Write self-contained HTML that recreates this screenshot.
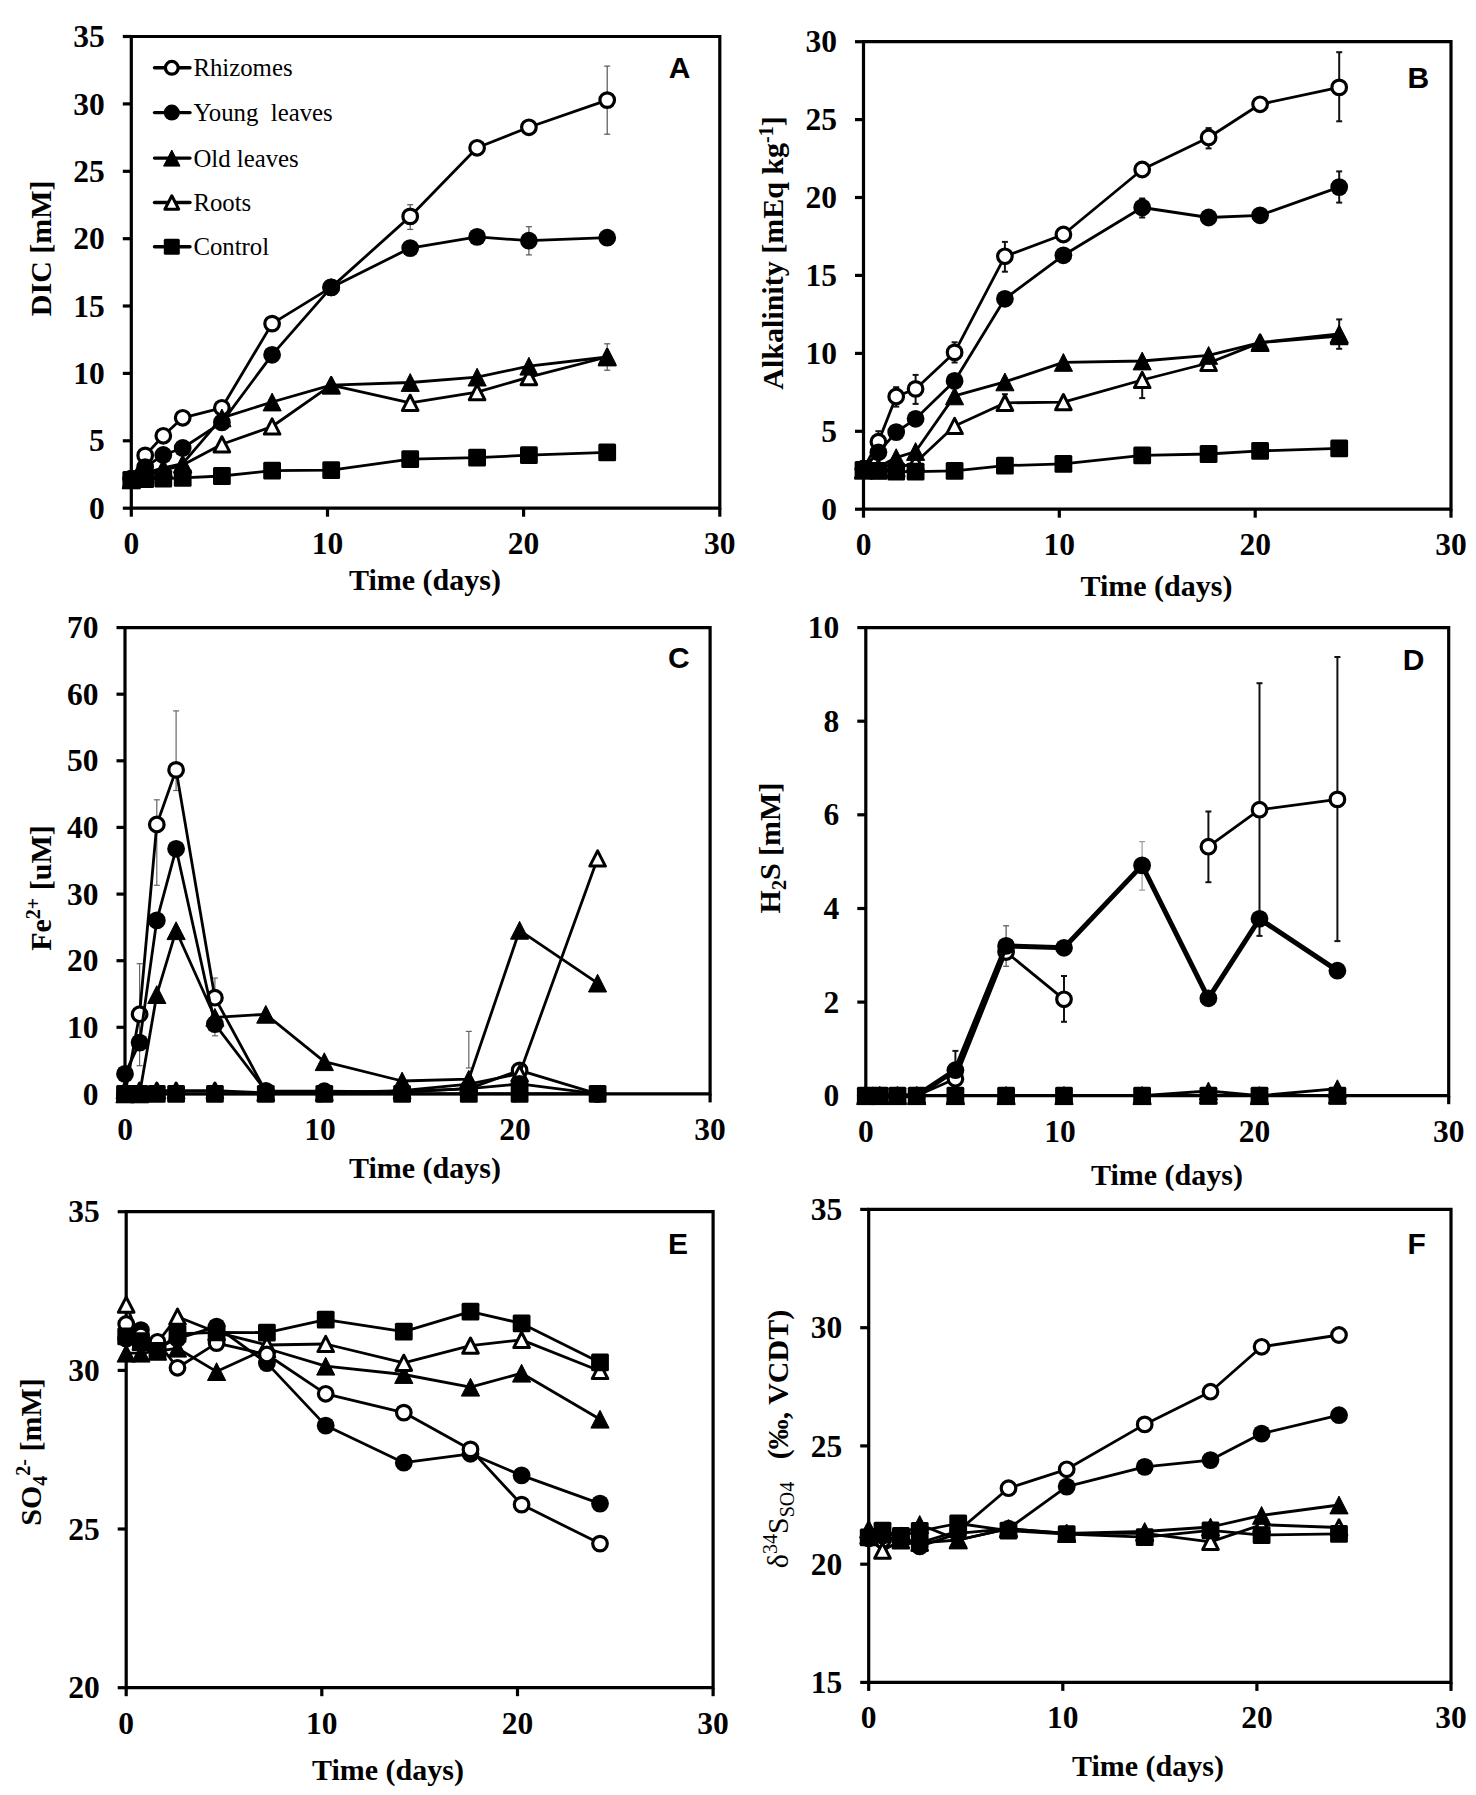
<!DOCTYPE html><html><head><meta charset="utf-8"><style>html,body{margin:0;padding:0;background:#fff;overflow:hidden}svg{display:block}</style></head><body><svg width="1476" height="1795" viewBox="0 0 1476 1795">
<style>.tl{font-family:"Liberation Serif",serif;font-weight:bold;font-size:31.5px}.at{font-family:"Liberation Serif",serif;font-weight:bold;font-size:30px}.lt{font-family:"Liberation Sans",sans-serif;font-weight:bold;font-size:30px}.lg{font-family:"Liberation Serif",serif;font-size:24.8px}</style>
<rect width="1476" height="1795" fill="#fff"/>
<path d="M131.3,36.5 L719.8,36.5 L719.8,508.2 L131.3,508.2 Z" fill="none" stroke="#000" stroke-width="3.2"/>
<line x1="122.8" y1="508.2" x2="131.3" y2="508.2" stroke="#000" stroke-width="3.2"/>
<text x="104.8" y="518.8" class="tl" text-anchor="end">0</text>
<line x1="122.8" y1="440.8" x2="131.3" y2="440.8" stroke="#000" stroke-width="3.2"/>
<text x="104.8" y="451.4" class="tl" text-anchor="end">5</text>
<line x1="122.8" y1="373.4" x2="131.3" y2="373.4" stroke="#000" stroke-width="3.2"/>
<text x="104.8" y="384.0" class="tl" text-anchor="end">10</text>
<line x1="122.8" y1="306.0" x2="131.3" y2="306.0" stroke="#000" stroke-width="3.2"/>
<text x="104.8" y="316.6" class="tl" text-anchor="end">15</text>
<line x1="122.8" y1="238.7" x2="131.3" y2="238.7" stroke="#000" stroke-width="3.2"/>
<text x="104.8" y="249.3" class="tl" text-anchor="end">20</text>
<line x1="122.8" y1="171.3" x2="131.3" y2="171.3" stroke="#000" stroke-width="3.2"/>
<text x="104.8" y="181.9" class="tl" text-anchor="end">25</text>
<line x1="122.8" y1="103.9" x2="131.3" y2="103.9" stroke="#000" stroke-width="3.2"/>
<text x="104.8" y="114.5" class="tl" text-anchor="end">30</text>
<line x1="122.8" y1="36.5" x2="131.3" y2="36.5" stroke="#000" stroke-width="3.2"/>
<text x="104.8" y="47.1" class="tl" text-anchor="end">35</text>
<line x1="131.3" y1="508.2" x2="131.3" y2="516.7" stroke="#000" stroke-width="3.2"/>
<text x="131.3" y="554.0" class="tl" text-anchor="middle">0</text>
<line x1="327.5" y1="508.2" x2="327.5" y2="516.7" stroke="#000" stroke-width="3.2"/>
<text x="327.5" y="554.0" class="tl" text-anchor="middle">10</text>
<line x1="523.6" y1="508.2" x2="523.6" y2="516.7" stroke="#000" stroke-width="3.2"/>
<text x="523.6" y="554.0" class="tl" text-anchor="middle">20</text>
<line x1="719.8" y1="508.2" x2="719.8" y2="516.7" stroke="#000" stroke-width="3.2"/>
<text x="719.8" y="554.0" class="tl" text-anchor="middle">30</text>
<text x="668.8" y="78.3" class="lt">A</text>
<text x="425.0" y="589.8" class="at" text-anchor="middle">Time (days)</text>
<text transform="translate(51.1,248.3) rotate(-90)" class="at" text-anchor="middle">DIC [mM]</text>
<path d="M863.5,41.7 L1451.0,41.7 L1451.0,509.2 L863.5,509.2 Z" fill="none" stroke="#000" stroke-width="3.2"/>
<line x1="855.0" y1="509.2" x2="863.5" y2="509.2" stroke="#000" stroke-width="3.2"/>
<text x="837.0" y="519.8" class="tl" text-anchor="end">0</text>
<line x1="855.0" y1="431.3" x2="863.5" y2="431.3" stroke="#000" stroke-width="3.2"/>
<text x="837.0" y="441.9" class="tl" text-anchor="end">5</text>
<line x1="855.0" y1="353.4" x2="863.5" y2="353.4" stroke="#000" stroke-width="3.2"/>
<text x="837.0" y="364.0" class="tl" text-anchor="end">10</text>
<line x1="855.0" y1="275.4" x2="863.5" y2="275.4" stroke="#000" stroke-width="3.2"/>
<text x="837.0" y="286.1" class="tl" text-anchor="end">15</text>
<line x1="855.0" y1="197.5" x2="863.5" y2="197.5" stroke="#000" stroke-width="3.2"/>
<text x="837.0" y="208.1" class="tl" text-anchor="end">20</text>
<line x1="855.0" y1="119.6" x2="863.5" y2="119.6" stroke="#000" stroke-width="3.2"/>
<text x="837.0" y="130.2" class="tl" text-anchor="end">25</text>
<line x1="855.0" y1="41.7" x2="863.5" y2="41.7" stroke="#000" stroke-width="3.2"/>
<text x="837.0" y="52.3" class="tl" text-anchor="end">30</text>
<line x1="863.5" y1="509.2" x2="863.5" y2="517.7" stroke="#000" stroke-width="3.2"/>
<text x="863.5" y="555.0" class="tl" text-anchor="middle">0</text>
<line x1="1059.3" y1="509.2" x2="1059.3" y2="517.7" stroke="#000" stroke-width="3.2"/>
<text x="1059.3" y="555.0" class="tl" text-anchor="middle">10</text>
<line x1="1255.2" y1="509.2" x2="1255.2" y2="517.7" stroke="#000" stroke-width="3.2"/>
<text x="1255.2" y="555.0" class="tl" text-anchor="middle">20</text>
<line x1="1451.0" y1="509.2" x2="1451.0" y2="517.7" stroke="#000" stroke-width="3.2"/>
<text x="1451.0" y="555.0" class="tl" text-anchor="middle">30</text>
<text x="1407.5" y="88.2" class="lt">B</text>
<text x="1156.5" y="595.9" class="at" text-anchor="middle">Time (days)</text>
<text transform="translate(783.4,253) rotate(-90)" class="at" text-anchor="middle">Alkalinity [mEq kg<tspan dy="-10" font-size="20">-1</tspan><tspan dy="10">]</tspan></text>
<path d="M125.0,627.6 L710.1,627.6 L710.1,1093.9 L125.0,1093.9 Z" fill="none" stroke="#000" stroke-width="3.2"/>
<line x1="116.5" y1="1093.9" x2="125.0" y2="1093.9" stroke="#000" stroke-width="3.2"/>
<text x="98.5" y="1104.5" class="tl" text-anchor="end">0</text>
<line x1="116.5" y1="1027.3" x2="125.0" y2="1027.3" stroke="#000" stroke-width="3.2"/>
<text x="98.5" y="1037.9" class="tl" text-anchor="end">10</text>
<line x1="116.5" y1="960.7" x2="125.0" y2="960.7" stroke="#000" stroke-width="3.2"/>
<text x="98.5" y="971.3" class="tl" text-anchor="end">20</text>
<line x1="116.5" y1="894.1" x2="125.0" y2="894.1" stroke="#000" stroke-width="3.2"/>
<text x="98.5" y="904.7" class="tl" text-anchor="end">30</text>
<line x1="116.5" y1="827.4" x2="125.0" y2="827.4" stroke="#000" stroke-width="3.2"/>
<text x="98.5" y="838.0" class="tl" text-anchor="end">40</text>
<line x1="116.5" y1="760.8" x2="125.0" y2="760.8" stroke="#000" stroke-width="3.2"/>
<text x="98.5" y="771.4" class="tl" text-anchor="end">50</text>
<line x1="116.5" y1="694.2" x2="125.0" y2="694.2" stroke="#000" stroke-width="3.2"/>
<text x="98.5" y="704.8" class="tl" text-anchor="end">60</text>
<line x1="116.5" y1="627.6" x2="125.0" y2="627.6" stroke="#000" stroke-width="3.2"/>
<text x="98.5" y="638.2" class="tl" text-anchor="end">70</text>
<line x1="125.0" y1="1093.9" x2="125.0" y2="1102.4" stroke="#000" stroke-width="3.2"/>
<text x="125.0" y="1139.7" class="tl" text-anchor="middle">0</text>
<line x1="320.0" y1="1093.9" x2="320.0" y2="1102.4" stroke="#000" stroke-width="3.2"/>
<text x="320.0" y="1139.7" class="tl" text-anchor="middle">10</text>
<line x1="515.1" y1="1093.9" x2="515.1" y2="1102.4" stroke="#000" stroke-width="3.2"/>
<text x="515.1" y="1139.7" class="tl" text-anchor="middle">20</text>
<line x1="710.1" y1="1093.9" x2="710.1" y2="1102.4" stroke="#000" stroke-width="3.2"/>
<text x="710.1" y="1139.7" class="tl" text-anchor="middle">30</text>
<text x="668.0" y="667.8" class="lt">C</text>
<text x="425.0" y="1178.1" class="at" text-anchor="middle">Time (days)</text>
<text transform="translate(51.2,888) rotate(-90)" class="at" text-anchor="middle">Fe<tspan dy="-11" font-size="20">2+</tspan><tspan dy="11"> [uM]</tspan></text>
<path d="M865.8,627.6 L1448.7,627.6 L1448.7,1095.7 L865.8,1095.7 Z" fill="none" stroke="#000" stroke-width="3.2"/>
<line x1="857.3" y1="1095.7" x2="865.8" y2="1095.7" stroke="#000" stroke-width="3.2"/>
<text x="839.3" y="1106.3" class="tl" text-anchor="end">0</text>
<line x1="857.3" y1="1002.1" x2="865.8" y2="1002.1" stroke="#000" stroke-width="3.2"/>
<text x="839.3" y="1012.7" class="tl" text-anchor="end">2</text>
<line x1="857.3" y1="908.5" x2="865.8" y2="908.5" stroke="#000" stroke-width="3.2"/>
<text x="839.3" y="919.1" class="tl" text-anchor="end">4</text>
<line x1="857.3" y1="814.8" x2="865.8" y2="814.8" stroke="#000" stroke-width="3.2"/>
<text x="839.3" y="825.4" class="tl" text-anchor="end">6</text>
<line x1="857.3" y1="721.2" x2="865.8" y2="721.2" stroke="#000" stroke-width="3.2"/>
<text x="839.3" y="731.8" class="tl" text-anchor="end">8</text>
<line x1="857.3" y1="627.6" x2="865.8" y2="627.6" stroke="#000" stroke-width="3.2"/>
<text x="839.3" y="638.2" class="tl" text-anchor="end">10</text>
<line x1="865.8" y1="1095.7" x2="865.8" y2="1104.2" stroke="#000" stroke-width="3.2"/>
<text x="865.8" y="1141.5" class="tl" text-anchor="middle">0</text>
<line x1="1060.1" y1="1095.7" x2="1060.1" y2="1104.2" stroke="#000" stroke-width="3.2"/>
<text x="1060.1" y="1141.5" class="tl" text-anchor="middle">10</text>
<line x1="1254.4" y1="1095.7" x2="1254.4" y2="1104.2" stroke="#000" stroke-width="3.2"/>
<text x="1254.4" y="1141.5" class="tl" text-anchor="middle">20</text>
<line x1="1448.7" y1="1095.7" x2="1448.7" y2="1104.2" stroke="#000" stroke-width="3.2"/>
<text x="1448.7" y="1141.5" class="tl" text-anchor="middle">30</text>
<text x="1402.8" y="670.0" class="lt">D</text>
<text x="1167.0" y="1184.9" class="at" text-anchor="middle">Time (days)</text>
<text transform="translate(779.5,848) rotate(-90)" class="at" text-anchor="middle">H<tspan dy="6" font-size="20">2</tspan><tspan dy="-6">S [mM]</tspan></text>
<path d="M126.2,1211.7 L713.1,1211.7 L713.1,1687.7 L126.2,1687.7 Z" fill="none" stroke="#000" stroke-width="3.2"/>
<line x1="117.7" y1="1687.7" x2="126.2" y2="1687.7" stroke="#000" stroke-width="3.2"/>
<text x="99.7" y="1698.3" class="tl" text-anchor="end">20</text>
<line x1="117.7" y1="1529.0" x2="126.2" y2="1529.0" stroke="#000" stroke-width="3.2"/>
<text x="99.7" y="1539.6" class="tl" text-anchor="end">25</text>
<line x1="117.7" y1="1370.4" x2="126.2" y2="1370.4" stroke="#000" stroke-width="3.2"/>
<text x="99.7" y="1381.0" class="tl" text-anchor="end">30</text>
<line x1="117.7" y1="1211.7" x2="126.2" y2="1211.7" stroke="#000" stroke-width="3.2"/>
<text x="99.7" y="1222.3" class="tl" text-anchor="end">35</text>
<line x1="126.2" y1="1687.7" x2="126.2" y2="1696.2" stroke="#000" stroke-width="3.2"/>
<text x="126.2" y="1733.5" class="tl" text-anchor="middle">0</text>
<line x1="321.8" y1="1687.7" x2="321.8" y2="1696.2" stroke="#000" stroke-width="3.2"/>
<text x="321.8" y="1733.5" class="tl" text-anchor="middle">10</text>
<line x1="517.5" y1="1687.7" x2="517.5" y2="1696.2" stroke="#000" stroke-width="3.2"/>
<text x="517.5" y="1733.5" class="tl" text-anchor="middle">20</text>
<line x1="713.1" y1="1687.7" x2="713.1" y2="1696.2" stroke="#000" stroke-width="3.2"/>
<text x="713.1" y="1733.5" class="tl" text-anchor="middle">30</text>
<text x="668.0" y="1254.3" class="lt">E</text>
<text x="388.0" y="1779.6" class="at" text-anchor="middle">Time (days)</text>
<text transform="translate(41.3,1452) rotate(-90)" class="at" text-anchor="middle">SO<tspan dy="6" font-size="20">4</tspan><tspan dy="-17" font-size="20">2-</tspan><tspan dy="11"> [mM]</tspan></text>
<path d="M868.7,1209.4 L1451.0,1209.4 L1451.0,1682.4 L868.7,1682.4 Z" fill="none" stroke="#000" stroke-width="3.2"/>
<line x1="860.2" y1="1682.4" x2="868.7" y2="1682.4" stroke="#000" stroke-width="3.2"/>
<text x="842.2" y="1693.0" class="tl" text-anchor="end">15</text>
<line x1="860.2" y1="1564.2" x2="868.7" y2="1564.2" stroke="#000" stroke-width="3.2"/>
<text x="842.2" y="1574.8" class="tl" text-anchor="end">20</text>
<line x1="860.2" y1="1445.9" x2="868.7" y2="1445.9" stroke="#000" stroke-width="3.2"/>
<text x="842.2" y="1456.5" class="tl" text-anchor="end">25</text>
<line x1="860.2" y1="1327.7" x2="868.7" y2="1327.7" stroke="#000" stroke-width="3.2"/>
<text x="842.2" y="1338.2" class="tl" text-anchor="end">30</text>
<line x1="860.2" y1="1209.4" x2="868.7" y2="1209.4" stroke="#000" stroke-width="3.2"/>
<text x="842.2" y="1220.0" class="tl" text-anchor="end">35</text>
<line x1="868.7" y1="1682.4" x2="868.7" y2="1690.9" stroke="#000" stroke-width="3.2"/>
<text x="868.7" y="1728.2" class="tl" text-anchor="middle">0</text>
<line x1="1062.8" y1="1682.4" x2="1062.8" y2="1690.9" stroke="#000" stroke-width="3.2"/>
<text x="1062.8" y="1728.2" class="tl" text-anchor="middle">10</text>
<line x1="1256.9" y1="1682.4" x2="1256.9" y2="1690.9" stroke="#000" stroke-width="3.2"/>
<text x="1256.9" y="1728.2" class="tl" text-anchor="middle">20</text>
<line x1="1451.0" y1="1682.4" x2="1451.0" y2="1690.9" stroke="#000" stroke-width="3.2"/>
<text x="1451.0" y="1728.2" class="tl" text-anchor="middle">30</text>
<text x="1407.5" y="1253.7" class="lt">F</text>
<text x="1148.0" y="1775.8" class="at" text-anchor="middle">Time (days)</text>
<text transform="translate(787.6,1439) rotate(-90)" class="at" text-anchor="middle"><tspan font-weight="normal">δ<tspan dy="-11" font-size="20">34</tspan><tspan dy="11">S</tspan><tspan dy="6" font-size="20">SO4</tspan></tspan><tspan dy="-6" xml:space="preserve">   (‰, VCDT)</tspan></text>
<g stroke="#555" stroke-width="1.2"><line x1="410.2" y1="204.7" x2="410.2" y2="229.4"/><line x1="407.2" y1="204.7" x2="413.2" y2="204.7"/><line x1="407.2" y1="229.4" x2="413.2" y2="229.4"/></g>
<g stroke="#555" stroke-width="1.2"><line x1="607.2" y1="66.1" x2="607.2" y2="134.2"/><line x1="604.2" y1="66.1" x2="610.2" y2="66.1"/><line x1="604.2" y1="134.2" x2="610.2" y2="134.2"/></g>
<g stroke="#555" stroke-width="1.2"><line x1="528.9" y1="226.7" x2="528.9" y2="254.9"/><line x1="525.9" y1="226.7" x2="531.9" y2="226.7"/><line x1="525.9" y1="254.9" x2="531.9" y2="254.9"/></g>
<g stroke="#555" stroke-width="1.2"><line x1="607.2" y1="343.8" x2="607.2" y2="370.2"/><line x1="604.2" y1="343.8" x2="610.2" y2="343.8"/><line x1="604.2" y1="370.2" x2="610.2" y2="370.2"/></g>
<g stroke="#111" stroke-width="2"><line x1="878.4" y1="431.2" x2="878.4" y2="452.0"/><line x1="875.4" y1="431.2" x2="881.4" y2="431.2"/><line x1="875.4" y1="452.0" x2="881.4" y2="452.0"/></g>
<g stroke="#111" stroke-width="2"><line x1="896.2" y1="387.2" x2="896.2" y2="406.6"/><line x1="893.2" y1="387.2" x2="899.2" y2="387.2"/><line x1="893.2" y1="406.6" x2="899.2" y2="406.6"/></g>
<g stroke="#111" stroke-width="2"><line x1="915.6" y1="374.9" x2="915.6" y2="403.9"/><line x1="912.6" y1="374.9" x2="918.6" y2="374.9"/><line x1="912.6" y1="403.9" x2="918.6" y2="403.9"/></g>
<g stroke="#111" stroke-width="2"><line x1="954.6" y1="342.3" x2="954.6" y2="362.5"/><line x1="951.6" y1="342.3" x2="957.6" y2="342.3"/><line x1="951.6" y1="362.5" x2="957.6" y2="362.5"/></g>
<g stroke="#111" stroke-width="2"><line x1="1004.9" y1="241.9" x2="1004.9" y2="271.7"/><line x1="1001.9" y1="241.9" x2="1007.9" y2="241.9"/><line x1="1001.9" y1="271.7" x2="1007.9" y2="271.7"/></g>
<g stroke="#111" stroke-width="2"><line x1="1208.6" y1="128.1" x2="1208.6" y2="148.4"/><line x1="1205.6" y1="128.1" x2="1211.6" y2="128.1"/><line x1="1205.6" y1="148.4" x2="1211.6" y2="148.4"/></g>
<g stroke="#111" stroke-width="2"><line x1="1339.2" y1="52.2" x2="1339.2" y2="121.3"/><line x1="1336.2" y1="52.2" x2="1342.2" y2="52.2"/><line x1="1336.2" y1="121.3" x2="1342.2" y2="121.3"/></g>
<g stroke="#111" stroke-width="2"><line x1="1339.2" y1="171.4" x2="1339.2" y2="202.6"/><line x1="1336.2" y1="171.4" x2="1342.2" y2="171.4"/><line x1="1336.2" y1="202.6" x2="1342.2" y2="202.6"/></g>
<g stroke="#111" stroke-width="2"><line x1="1142.2" y1="198.5" x2="1142.2" y2="217.5"/><line x1="1139.2" y1="198.5" x2="1145.2" y2="198.5"/><line x1="1139.2" y1="217.5" x2="1145.2" y2="217.5"/></g>
<g stroke="#111" stroke-width="2"><line x1="1142.2" y1="380.1" x2="1142.2" y2="398.1"/><line x1="1139.2" y1="380.1" x2="1145.2" y2="380.1"/><line x1="1139.2" y1="398.1" x2="1145.2" y2="398.1"/></g>
<g stroke="#111" stroke-width="2"><line x1="1339.2" y1="319.4" x2="1339.2" y2="348.8"/><line x1="1336.2" y1="319.4" x2="1342.2" y2="319.4"/><line x1="1336.2" y1="348.8" x2="1342.2" y2="348.8"/></g>
<g stroke="#111" stroke-width="2"><line x1="1004.9" y1="394.2" x2="1004.9" y2="410.0"/><line x1="1001.9" y1="394.2" x2="1007.9" y2="394.2"/><line x1="1001.9" y1="410.0" x2="1007.9" y2="410.0"/></g>
<g stroke="#666" stroke-width="1.2"><line x1="139.6" y1="963.7" x2="139.6" y2="1065.7"/><line x1="136.6" y1="963.7" x2="142.6" y2="963.7"/><line x1="136.6" y1="1065.7" x2="142.6" y2="1065.7"/></g>
<g stroke="#666" stroke-width="1.2"><line x1="156.8" y1="799.8" x2="156.8" y2="885.3"/><line x1="153.8" y1="799.8" x2="159.8" y2="799.8"/><line x1="153.8" y1="885.3" x2="159.8" y2="885.3"/></g>
<g stroke="#666" stroke-width="1.2"><line x1="176.1" y1="710.9" x2="176.1" y2="790.5"/><line x1="173.1" y1="710.9" x2="179.1" y2="710.9"/><line x1="173.1" y1="790.5" x2="179.1" y2="790.5"/></g>
<g stroke="#666" stroke-width="1.2"><line x1="214.9" y1="978.1" x2="214.9" y2="1000.0"/><line x1="211.9" y1="978.1" x2="217.9" y2="978.1"/><line x1="211.9" y1="1000.0" x2="217.9" y2="1000.0"/></g>
<g stroke="#666" stroke-width="1.2"><line x1="214.9" y1="1024.0" x2="214.9" y2="1035.8"/><line x1="211.9" y1="1024.0" x2="217.9" y2="1024.0"/><line x1="211.9" y1="1035.8" x2="217.9" y2="1035.8"/></g>
<g stroke="#666" stroke-width="1.2"><line x1="468.8" y1="1031.4" x2="468.8" y2="1068.0"/><line x1="465.8" y1="1031.4" x2="471.8" y2="1031.4"/><line x1="465.8" y1="1068.0" x2="471.8" y2="1068.0"/></g>
<g stroke="#111" stroke-width="2"><line x1="955.4" y1="1050.9" x2="955.4" y2="1070.0"/><line x1="952.4" y1="1050.9" x2="958.4" y2="1050.9"/><line x1="952.4" y1="1070.0" x2="958.4" y2="1070.0"/></g>
<g stroke="#555" stroke-width="1.2"><line x1="1006.1" y1="925.8" x2="1006.1" y2="966.3"/><line x1="1003.1" y1="925.8" x2="1009.1" y2="925.8"/><line x1="1003.1" y1="966.3" x2="1009.1" y2="966.3"/></g>
<g stroke="#111" stroke-width="2"><line x1="1064.0" y1="976.0" x2="1064.0" y2="1021.8"/><line x1="1061.0" y1="976.0" x2="1067.0" y2="976.0"/><line x1="1061.0" y1="1021.8" x2="1067.0" y2="1021.8"/></g>
<g stroke="#999" stroke-width="1.2"><line x1="1142.1" y1="841.6" x2="1142.1" y2="890.1"/><line x1="1139.1" y1="841.6" x2="1145.1" y2="841.6"/><line x1="1139.1" y1="890.1" x2="1145.1" y2="890.1"/></g>
<g stroke="#111" stroke-width="2"><line x1="1208.4" y1="811.5" x2="1208.4" y2="882.2"/><line x1="1205.4" y1="811.5" x2="1211.4" y2="811.5"/><line x1="1205.4" y1="882.2" x2="1211.4" y2="882.2"/></g>
<g stroke="#111" stroke-width="2"><line x1="1259.5" y1="683.2" x2="1259.5" y2="935.9"/><line x1="1256.5" y1="683.2" x2="1262.5" y2="683.2"/><line x1="1256.5" y1="935.9" x2="1262.5" y2="935.9"/></g>
<g stroke="#111" stroke-width="2"><line x1="1337.4" y1="657.0" x2="1337.4" y2="941.1"/><line x1="1334.4" y1="657.0" x2="1340.4" y2="657.0"/><line x1="1334.4" y1="941.1" x2="1340.4" y2="941.1"/></g>
<path d="M131.3,478.6 L145.2,455.4 L163.3,435.8 L182.7,417.8 L221.9,407.8 L272.1,323.6 L331.2,287.4 L410.2,216.4 L477.1,147.8 L528.9,127.3 L607.2,100.1" fill="none" stroke="#000" stroke-width="2.8" stroke-linejoin="round"/>
<circle cx="131.3" cy="478.6" r="7.3" fill="#fff" stroke="#000" stroke-width="3.2"/>
<circle cx="145.2" cy="455.4" r="7.3" fill="#fff" stroke="#000" stroke-width="3.2"/>
<circle cx="163.3" cy="435.8" r="7.3" fill="#fff" stroke="#000" stroke-width="3.2"/>
<circle cx="182.7" cy="417.8" r="7.3" fill="#fff" stroke="#000" stroke-width="3.2"/>
<circle cx="221.9" cy="407.8" r="7.3" fill="#fff" stroke="#000" stroke-width="3.2"/>
<circle cx="272.1" cy="323.6" r="7.3" fill="#fff" stroke="#000" stroke-width="3.2"/>
<circle cx="331.2" cy="287.4" r="7.3" fill="#fff" stroke="#000" stroke-width="3.2"/>
<circle cx="410.2" cy="216.4" r="7.3" fill="#fff" stroke="#000" stroke-width="3.2"/>
<circle cx="477.1" cy="147.8" r="7.3" fill="#fff" stroke="#000" stroke-width="3.2"/>
<circle cx="528.9" cy="127.3" r="7.3" fill="#fff" stroke="#000" stroke-width="3.2"/>
<circle cx="607.2" cy="100.1" r="7.3" fill="#fff" stroke="#000" stroke-width="3.2"/>
<path d="M131.3,479.9 L145.2,475.9 L163.3,470.5 L182.7,465.1 L221.9,444.3 L272.1,426.5 L331.2,385.2 L410.2,402.8 L477.1,392.2 L528.9,377.1 L607.2,357.0" fill="none" stroke="#000" stroke-width="2.8" stroke-linejoin="round"/>
<path d="M131.3,472.3 L139.1,487.5 L123.5,487.5 Z" fill="#fff" stroke="#000" stroke-width="3" stroke-linejoin="round"/>
<path d="M145.2,468.3 L153.0,483.5 L137.4,483.5 Z" fill="#fff" stroke="#000" stroke-width="3" stroke-linejoin="round"/>
<path d="M163.3,462.9 L171.1,478.1 L155.5,478.1 Z" fill="#fff" stroke="#000" stroke-width="3" stroke-linejoin="round"/>
<path d="M182.7,457.5 L190.5,472.7 L174.9,472.7 Z" fill="#fff" stroke="#000" stroke-width="3" stroke-linejoin="round"/>
<path d="M221.9,436.7 L229.7,451.9 L214.1,451.9 Z" fill="#fff" stroke="#000" stroke-width="3" stroke-linejoin="round"/>
<path d="M272.1,418.9 L279.9,434.1 L264.3,434.1 Z" fill="#fff" stroke="#000" stroke-width="3" stroke-linejoin="round"/>
<path d="M331.2,377.6 L339.0,392.8 L323.4,392.8 Z" fill="#fff" stroke="#000" stroke-width="3" stroke-linejoin="round"/>
<path d="M410.2,395.2 L418.0,410.4 L402.4,410.4 Z" fill="#fff" stroke="#000" stroke-width="3" stroke-linejoin="round"/>
<path d="M477.1,384.6 L484.9,399.8 L469.3,399.8 Z" fill="#fff" stroke="#000" stroke-width="3" stroke-linejoin="round"/>
<path d="M528.9,369.5 L536.7,384.7 L521.1,384.7 Z" fill="#fff" stroke="#000" stroke-width="3" stroke-linejoin="round"/>
<path d="M607.2,349.4 L615.0,364.6 L599.4,364.6 Z" fill="#fff" stroke="#000" stroke-width="3" stroke-linejoin="round"/>
<path d="M131.3,478.6 L145.2,467.1 L163.3,455.0 L182.7,448.0 L221.9,422.4 L272.1,354.8 L331.2,287.4 L410.2,248.1 L477.1,236.9 L528.9,240.7 L607.2,237.7" fill="none" stroke="#000" stroke-width="2.8" stroke-linejoin="round"/>
<circle cx="131.3" cy="478.6" r="8.9" fill="#000"/>
<circle cx="145.2" cy="467.1" r="8.9" fill="#000"/>
<circle cx="163.3" cy="455.0" r="8.9" fill="#000"/>
<circle cx="182.7" cy="448.0" r="8.9" fill="#000"/>
<circle cx="221.9" cy="422.4" r="8.9" fill="#000"/>
<circle cx="272.1" cy="354.8" r="8.9" fill="#000"/>
<circle cx="331.2" cy="287.4" r="8.9" fill="#000"/>
<circle cx="410.2" cy="248.1" r="8.9" fill="#000"/>
<circle cx="477.1" cy="236.9" r="8.9" fill="#000"/>
<circle cx="528.9" cy="240.7" r="8.9" fill="#000"/>
<circle cx="607.2" cy="237.7" r="8.9" fill="#000"/>
<path d="M131.3,479.9 L145.2,473.2 L163.3,467.8 L182.7,463.7 L221.9,417.9 L272.1,402.0 L331.2,385.2 L410.2,382.5 L477.1,377.1 L528.9,366.2 L607.2,357.0" fill="none" stroke="#000" stroke-width="2.8" stroke-linejoin="round"/>
<path d="M131.3,471.0 L140.4,488.8 L122.2,488.8 Z" fill="#000" stroke="#000" stroke-width="1" stroke-linejoin="round"/>
<path d="M145.2,464.3 L154.3,482.1 L136.1,482.1 Z" fill="#000" stroke="#000" stroke-width="1" stroke-linejoin="round"/>
<path d="M163.3,458.9 L172.4,476.7 L154.2,476.7 Z" fill="#000" stroke="#000" stroke-width="1" stroke-linejoin="round"/>
<path d="M182.7,454.8 L191.8,472.6 L173.6,472.6 Z" fill="#000" stroke="#000" stroke-width="1" stroke-linejoin="round"/>
<path d="M221.9,409.0 L231.0,426.8 L212.9,426.8 Z" fill="#000" stroke="#000" stroke-width="1" stroke-linejoin="round"/>
<path d="M272.1,393.1 L281.2,410.9 L263.1,410.9 Z" fill="#000" stroke="#000" stroke-width="1" stroke-linejoin="round"/>
<path d="M331.2,376.3 L340.3,394.1 L322.1,394.1 Z" fill="#000" stroke="#000" stroke-width="1" stroke-linejoin="round"/>
<path d="M410.2,373.6 L419.3,391.4 L401.2,391.4 Z" fill="#000" stroke="#000" stroke-width="1" stroke-linejoin="round"/>
<path d="M477.1,368.2 L486.2,386.0 L468.1,386.0 Z" fill="#000" stroke="#000" stroke-width="1" stroke-linejoin="round"/>
<path d="M528.9,357.3 L538.0,375.1 L519.9,375.1 Z" fill="#000" stroke="#000" stroke-width="1" stroke-linejoin="round"/>
<path d="M607.2,348.1 L616.3,365.9 L598.1,365.9 Z" fill="#000" stroke="#000" stroke-width="1" stroke-linejoin="round"/>
<path d="M131.3,479.9 L145.2,479.1 L163.3,478.6 L182.7,477.9 L221.9,476.0 L272.1,470.7 L331.2,470.2 L410.2,459.1 L477.1,457.7 L528.9,455.2 L607.2,452.4" fill="none" stroke="#000" stroke-width="2.8" stroke-linejoin="round"/>
<rect x="122.4" y="471.0" width="17.8" height="17.8" rx="1.5" fill="#000"/>
<rect x="136.3" y="470.2" width="17.8" height="17.8" rx="1.5" fill="#000"/>
<rect x="154.4" y="469.7" width="17.8" height="17.8" rx="1.5" fill="#000"/>
<rect x="173.8" y="469.0" width="17.8" height="17.8" rx="1.5" fill="#000"/>
<rect x="213.0" y="467.1" width="17.8" height="17.8" rx="1.5" fill="#000"/>
<rect x="263.2" y="461.8" width="17.8" height="17.8" rx="1.5" fill="#000"/>
<rect x="322.3" y="461.3" width="17.8" height="17.8" rx="1.5" fill="#000"/>
<rect x="401.3" y="450.2" width="17.8" height="17.8" rx="1.5" fill="#000"/>
<rect x="468.2" y="448.8" width="17.8" height="17.8" rx="1.5" fill="#000"/>
<rect x="520.0" y="446.3" width="17.8" height="17.8" rx="1.5" fill="#000"/>
<rect x="598.3" y="443.5" width="17.8" height="17.8" rx="1.5" fill="#000"/>
<path d="M863.5,468.7 L878.4,441.7 L896.2,396.5 L915.6,388.9 L954.6,352.4 L1004.9,256.3 L1063.4,234.5 L1142.2,169.5 L1208.6,137.5 L1260.1,104.3 L1339.2,87.4" fill="none" stroke="#000" stroke-width="2.8" stroke-linejoin="round"/>
<circle cx="863.5" cy="468.7" r="7.3" fill="#fff" stroke="#000" stroke-width="3.2"/>
<circle cx="878.4" cy="441.7" r="7.3" fill="#fff" stroke="#000" stroke-width="3.2"/>
<circle cx="896.2" cy="396.5" r="7.3" fill="#fff" stroke="#000" stroke-width="3.2"/>
<circle cx="915.6" cy="388.9" r="7.3" fill="#fff" stroke="#000" stroke-width="3.2"/>
<circle cx="954.6" cy="352.4" r="7.3" fill="#fff" stroke="#000" stroke-width="3.2"/>
<circle cx="1004.9" cy="256.3" r="7.3" fill="#fff" stroke="#000" stroke-width="3.2"/>
<circle cx="1063.4" cy="234.5" r="7.3" fill="#fff" stroke="#000" stroke-width="3.2"/>
<circle cx="1142.2" cy="169.5" r="7.3" fill="#fff" stroke="#000" stroke-width="3.2"/>
<circle cx="1208.6" cy="137.5" r="7.3" fill="#fff" stroke="#000" stroke-width="3.2"/>
<circle cx="1260.1" cy="104.3" r="7.3" fill="#fff" stroke="#000" stroke-width="3.2"/>
<circle cx="1339.2" cy="87.4" r="7.3" fill="#fff" stroke="#000" stroke-width="3.2"/>
<path d="M863.5,470.2 L878.4,470.2 L896.2,468.7 L915.6,462.4 L954.6,426.0 L1004.9,402.9 L1063.4,402.1 L1142.2,380.0 L1208.6,363.0 L1260.1,342.6 L1339.2,336.2" fill="none" stroke="#000" stroke-width="2.8" stroke-linejoin="round"/>
<path d="M863.5,462.6 L871.3,477.8 L855.7,477.8 Z" fill="#fff" stroke="#000" stroke-width="3" stroke-linejoin="round"/>
<path d="M878.4,462.6 L886.2,477.8 L870.6,477.8 Z" fill="#fff" stroke="#000" stroke-width="3" stroke-linejoin="round"/>
<path d="M896.2,461.1 L904.0,476.3 L888.4,476.3 Z" fill="#fff" stroke="#000" stroke-width="3" stroke-linejoin="round"/>
<path d="M915.6,454.8 L923.4,470.1 L907.8,470.1 Z" fill="#fff" stroke="#000" stroke-width="3" stroke-linejoin="round"/>
<path d="M954.6,418.4 L962.4,433.6 L946.8,433.6 Z" fill="#fff" stroke="#000" stroke-width="3" stroke-linejoin="round"/>
<path d="M1004.9,395.3 L1012.7,410.5 L997.1,410.5 Z" fill="#fff" stroke="#000" stroke-width="3" stroke-linejoin="round"/>
<path d="M1063.4,394.5 L1071.2,409.7 L1055.6,409.7 Z" fill="#fff" stroke="#000" stroke-width="3" stroke-linejoin="round"/>
<path d="M1142.2,372.4 L1150.0,387.6 L1134.4,387.6 Z" fill="#fff" stroke="#000" stroke-width="3" stroke-linejoin="round"/>
<path d="M1208.6,355.4 L1216.4,370.6 L1200.8,370.6 Z" fill="#fff" stroke="#000" stroke-width="3" stroke-linejoin="round"/>
<path d="M1260.1,335.0 L1267.9,350.2 L1252.3,350.2 Z" fill="#fff" stroke="#000" stroke-width="3" stroke-linejoin="round"/>
<path d="M1339.2,328.6 L1347.0,343.8 L1331.4,343.8 Z" fill="#fff" stroke="#000" stroke-width="3" stroke-linejoin="round"/>
<path d="M863.5,468.7 L878.4,452.3 L896.2,432.1 L915.6,418.8 L954.6,380.9 L1004.9,298.8 L1063.4,255.3 L1142.2,207.5 L1208.6,217.5 L1260.1,215.3 L1339.2,187.1" fill="none" stroke="#000" stroke-width="2.8" stroke-linejoin="round"/>
<circle cx="863.5" cy="468.7" r="8.9" fill="#000"/>
<circle cx="878.4" cy="452.3" r="8.9" fill="#000"/>
<circle cx="896.2" cy="432.1" r="8.9" fill="#000"/>
<circle cx="915.6" cy="418.8" r="8.9" fill="#000"/>
<circle cx="954.6" cy="380.9" r="8.9" fill="#000"/>
<circle cx="1004.9" cy="298.8" r="8.9" fill="#000"/>
<circle cx="1063.4" cy="255.3" r="8.9" fill="#000"/>
<circle cx="1142.2" cy="207.5" r="8.9" fill="#000"/>
<circle cx="1208.6" cy="217.5" r="8.9" fill="#000"/>
<circle cx="1260.1" cy="215.3" r="8.9" fill="#000"/>
<circle cx="1339.2" cy="187.1" r="8.9" fill="#000"/>
<path d="M863.5,470.2 L878.4,467.1 L896.2,457.6 L915.6,451.5 L954.6,395.9 L1004.9,381.9 L1063.4,362.4 L1142.2,361.0 L1208.6,355.4 L1260.1,342.6 L1339.2,333.9" fill="none" stroke="#000" stroke-width="2.8" stroke-linejoin="round"/>
<path d="M863.5,461.3 L872.6,479.1 L854.4,479.1 Z" fill="#000" stroke="#000" stroke-width="1" stroke-linejoin="round"/>
<path d="M878.4,458.2 L887.5,476.0 L869.3,476.0 Z" fill="#000" stroke="#000" stroke-width="1" stroke-linejoin="round"/>
<path d="M896.2,448.7 L905.3,466.5 L887.1,466.5 Z" fill="#000" stroke="#000" stroke-width="1" stroke-linejoin="round"/>
<path d="M915.6,442.6 L924.7,460.4 L906.5,460.4 Z" fill="#000" stroke="#000" stroke-width="1" stroke-linejoin="round"/>
<path d="M954.6,387.0 L963.6,404.8 L945.5,404.8 Z" fill="#000" stroke="#000" stroke-width="1" stroke-linejoin="round"/>
<path d="M1004.9,373.0 L1014.0,390.8 L995.8,390.8 Z" fill="#000" stroke="#000" stroke-width="1" stroke-linejoin="round"/>
<path d="M1063.4,353.5 L1072.5,371.3 L1054.4,371.3 Z" fill="#000" stroke="#000" stroke-width="1" stroke-linejoin="round"/>
<path d="M1142.2,352.1 L1151.2,369.9 L1133.1,369.9 Z" fill="#000" stroke="#000" stroke-width="1" stroke-linejoin="round"/>
<path d="M1208.6,346.5 L1217.6,364.3 L1199.5,364.3 Z" fill="#000" stroke="#000" stroke-width="1" stroke-linejoin="round"/>
<path d="M1260.1,333.7 L1269.1,351.5 L1251.0,351.5 Z" fill="#000" stroke="#000" stroke-width="1" stroke-linejoin="round"/>
<path d="M1339.2,325.0 L1348.3,342.8 L1330.1,342.8 Z" fill="#000" stroke="#000" stroke-width="1" stroke-linejoin="round"/>
<path d="M863.5,469.9 L878.4,470.9 L896.2,471.6 L915.6,471.6 L954.6,470.9 L1004.9,465.6 L1063.4,463.9 L1142.2,455.4 L1208.6,454.0 L1260.1,450.9 L1339.2,448.4" fill="none" stroke="#000" stroke-width="2.8" stroke-linejoin="round"/>
<rect x="854.6" y="461.0" width="17.8" height="17.8" rx="1.5" fill="#000"/>
<rect x="869.5" y="462.0" width="17.8" height="17.8" rx="1.5" fill="#000"/>
<rect x="887.3" y="462.7" width="17.8" height="17.8" rx="1.5" fill="#000"/>
<rect x="906.7" y="462.7" width="17.8" height="17.8" rx="1.5" fill="#000"/>
<rect x="945.7" y="462.0" width="17.8" height="17.8" rx="1.5" fill="#000"/>
<rect x="996.0" y="456.7" width="17.8" height="17.8" rx="1.5" fill="#000"/>
<rect x="1054.5" y="455.0" width="17.8" height="17.8" rx="1.5" fill="#000"/>
<rect x="1133.3" y="446.5" width="17.8" height="17.8" rx="1.5" fill="#000"/>
<rect x="1199.7" y="445.1" width="17.8" height="17.8" rx="1.5" fill="#000"/>
<rect x="1251.2" y="442.0" width="17.8" height="17.8" rx="1.5" fill="#000"/>
<rect x="1330.3" y="439.5" width="17.8" height="17.8" rx="1.5" fill="#000"/>
<path d="M125.0,1093.9 L139.6,1014.2 L156.8,824.5 L176.1,769.9 L214.9,997.7 L265.8,1091.6 L324.3,1091.9 L402.1,1091.9 L468.8,1088.6 L519.6,1070.4 L597.6,1093.9" fill="none" stroke="#000" stroke-width="2.8" stroke-linejoin="round"/>
<circle cx="125.0" cy="1093.9" r="7.3" fill="#fff" stroke="#000" stroke-width="3.2"/>
<circle cx="139.6" cy="1014.2" r="7.3" fill="#fff" stroke="#000" stroke-width="3.2"/>
<circle cx="156.8" cy="824.5" r="7.3" fill="#fff" stroke="#000" stroke-width="3.2"/>
<circle cx="176.1" cy="769.9" r="7.3" fill="#fff" stroke="#000" stroke-width="3.2"/>
<circle cx="214.9" cy="997.7" r="7.3" fill="#fff" stroke="#000" stroke-width="3.2"/>
<circle cx="265.8" cy="1091.6" r="7.3" fill="#fff" stroke="#000" stroke-width="3.2"/>
<circle cx="324.3" cy="1091.9" r="7.3" fill="#fff" stroke="#000" stroke-width="3.2"/>
<circle cx="402.1" cy="1091.9" r="7.3" fill="#fff" stroke="#000" stroke-width="3.2"/>
<circle cx="468.8" cy="1088.6" r="7.3" fill="#fff" stroke="#000" stroke-width="3.2"/>
<circle cx="519.6" cy="1070.4" r="7.3" fill="#fff" stroke="#000" stroke-width="3.2"/>
<circle cx="597.6" cy="1093.9" r="7.3" fill="#fff" stroke="#000" stroke-width="3.2"/>
<path d="M125.0,1090.6 L139.6,1090.6 L156.8,1090.6 L176.1,1090.6 L214.9,1090.6 L265.8,1092.9 L324.3,1092.9 L402.1,1090.6 L468.8,1084.2 L519.6,1073.7 L597.6,858.5" fill="none" stroke="#000" stroke-width="2.8" stroke-linejoin="round"/>
<path d="M125.0,1083.0 L132.8,1098.2 L117.2,1098.2 Z" fill="#fff" stroke="#000" stroke-width="3" stroke-linejoin="round"/>
<path d="M139.6,1083.0 L147.4,1098.2 L131.8,1098.2 Z" fill="#fff" stroke="#000" stroke-width="3" stroke-linejoin="round"/>
<path d="M156.8,1083.0 L164.6,1098.2 L149.0,1098.2 Z" fill="#fff" stroke="#000" stroke-width="3" stroke-linejoin="round"/>
<path d="M176.1,1083.0 L183.9,1098.2 L168.3,1098.2 Z" fill="#fff" stroke="#000" stroke-width="3" stroke-linejoin="round"/>
<path d="M214.9,1083.0 L222.7,1098.2 L207.1,1098.2 Z" fill="#fff" stroke="#000" stroke-width="3" stroke-linejoin="round"/>
<path d="M265.8,1085.3 L273.6,1100.5 L258.0,1100.5 Z" fill="#fff" stroke="#000" stroke-width="3" stroke-linejoin="round"/>
<path d="M324.3,1085.3 L332.1,1100.5 L316.5,1100.5 Z" fill="#fff" stroke="#000" stroke-width="3" stroke-linejoin="round"/>
<path d="M402.1,1083.0 L409.9,1098.2 L394.3,1098.2 Z" fill="#fff" stroke="#000" stroke-width="3" stroke-linejoin="round"/>
<path d="M468.8,1076.6 L476.6,1091.8 L461.0,1091.8 Z" fill="#fff" stroke="#000" stroke-width="3" stroke-linejoin="round"/>
<path d="M519.6,1066.1 L527.4,1081.3 L511.8,1081.3 Z" fill="#fff" stroke="#000" stroke-width="3" stroke-linejoin="round"/>
<path d="M597.6,850.9 L605.4,866.1 L589.8,866.1 Z" fill="#fff" stroke="#000" stroke-width="3" stroke-linejoin="round"/>
<path d="M125.0,1073.9 L139.6,1042.6 L156.8,920.4 L176.1,848.8 L214.9,1024.1 L265.8,1090.9 L324.3,1091.2 L402.1,1091.9 L468.8,1088.6 L519.6,1083.9 L597.6,1093.9" fill="none" stroke="#000" stroke-width="2.8" stroke-linejoin="round"/>
<circle cx="125.0" cy="1073.9" r="8.9" fill="#000"/>
<circle cx="139.6" cy="1042.6" r="8.9" fill="#000"/>
<circle cx="156.8" cy="920.4" r="8.9" fill="#000"/>
<circle cx="176.1" cy="848.8" r="8.9" fill="#000"/>
<circle cx="214.9" cy="1024.1" r="8.9" fill="#000"/>
<circle cx="265.8" cy="1090.9" r="8.9" fill="#000"/>
<circle cx="324.3" cy="1091.2" r="8.9" fill="#000"/>
<circle cx="402.1" cy="1091.9" r="8.9" fill="#000"/>
<circle cx="468.8" cy="1088.6" r="8.9" fill="#000"/>
<circle cx="519.6" cy="1083.9" r="8.9" fill="#000"/>
<circle cx="597.6" cy="1093.9" r="8.9" fill="#000"/>
<path d="M125.0,1093.9 L139.6,1093.9 L156.8,994.6 L176.1,930.7 L214.9,1017.3 L265.8,1014.3 L324.3,1061.7 L402.1,1081.0 L468.8,1079.2 L519.6,930.3 L597.6,983.1" fill="none" stroke="#000" stroke-width="2.8" stroke-linejoin="round"/>
<path d="M125.0,1085.0 L134.1,1102.8 L115.9,1102.8 Z" fill="#000" stroke="#000" stroke-width="1" stroke-linejoin="round"/>
<path d="M139.6,1085.0 L148.7,1102.8 L130.5,1102.8 Z" fill="#000" stroke="#000" stroke-width="1" stroke-linejoin="round"/>
<path d="M156.8,985.7 L165.9,1003.5 L147.7,1003.5 Z" fill="#000" stroke="#000" stroke-width="1" stroke-linejoin="round"/>
<path d="M176.1,921.8 L185.2,939.6 L167.0,939.6 Z" fill="#000" stroke="#000" stroke-width="1" stroke-linejoin="round"/>
<path d="M214.9,1008.4 L224.0,1026.2 L205.8,1026.2 Z" fill="#000" stroke="#000" stroke-width="1" stroke-linejoin="round"/>
<path d="M265.8,1005.4 L274.9,1023.2 L256.7,1023.2 Z" fill="#000" stroke="#000" stroke-width="1" stroke-linejoin="round"/>
<path d="M324.3,1052.8 L333.4,1070.6 L315.2,1070.6 Z" fill="#000" stroke="#000" stroke-width="1" stroke-linejoin="round"/>
<path d="M402.1,1072.1 L411.2,1089.9 L393.1,1089.9 Z" fill="#000" stroke="#000" stroke-width="1" stroke-linejoin="round"/>
<path d="M468.8,1070.3 L477.9,1088.1 L459.8,1088.1 Z" fill="#000" stroke="#000" stroke-width="1" stroke-linejoin="round"/>
<path d="M519.6,921.4 L528.6,939.2 L510.5,939.2 Z" fill="#000" stroke="#000" stroke-width="1" stroke-linejoin="round"/>
<path d="M597.6,974.2 L606.6,992.0 L588.5,992.0 Z" fill="#000" stroke="#000" stroke-width="1" stroke-linejoin="round"/>
<path d="M125.0,1093.9 L139.6,1093.9 L156.8,1093.9 L176.1,1093.9 L214.9,1093.9 L265.8,1093.9 L324.3,1093.9 L402.1,1093.9 L468.8,1093.9 L519.6,1093.9 L597.6,1093.9" fill="none" stroke="#000" stroke-width="2.8" stroke-linejoin="round"/>
<rect x="116.1" y="1085.0" width="17.8" height="17.8" rx="1.5" fill="#000"/>
<rect x="130.7" y="1085.0" width="17.8" height="17.8" rx="1.5" fill="#000"/>
<rect x="147.9" y="1085.0" width="17.8" height="17.8" rx="1.5" fill="#000"/>
<rect x="167.2" y="1085.0" width="17.8" height="17.8" rx="1.5" fill="#000"/>
<rect x="206.0" y="1085.0" width="17.8" height="17.8" rx="1.5" fill="#000"/>
<rect x="256.9" y="1085.0" width="17.8" height="17.8" rx="1.5" fill="#000"/>
<rect x="315.4" y="1085.0" width="17.8" height="17.8" rx="1.5" fill="#000"/>
<rect x="393.2" y="1085.0" width="17.8" height="17.8" rx="1.5" fill="#000"/>
<rect x="459.9" y="1085.0" width="17.8" height="17.8" rx="1.5" fill="#000"/>
<rect x="510.7" y="1085.0" width="17.8" height="17.8" rx="1.5" fill="#000"/>
<rect x="588.7" y="1085.0" width="17.8" height="17.8" rx="1.5" fill="#000"/>
<path d="M865.8,1095.7 L879.8,1095.7 L897.5,1095.7 L916.7,1095.7 L955.4,1078.8 L1006.1,952.0 L1064.0,999.3" fill="none" stroke="#000" stroke-width="2.8" stroke-linejoin="round"/>
<path d="M1208.4,846.7 L1259.5,809.7 L1337.4,799.4" fill="none" stroke="#000" stroke-width="2.8" stroke-linejoin="round"/>
<circle cx="865.8" cy="1095.7" r="7.3" fill="#fff" stroke="#000" stroke-width="3.2"/>
<circle cx="879.8" cy="1095.7" r="7.3" fill="#fff" stroke="#000" stroke-width="3.2"/>
<circle cx="897.5" cy="1095.7" r="7.3" fill="#fff" stroke="#000" stroke-width="3.2"/>
<circle cx="916.7" cy="1095.7" r="7.3" fill="#fff" stroke="#000" stroke-width="3.2"/>
<circle cx="955.4" cy="1078.8" r="7.3" fill="#fff" stroke="#000" stroke-width="3.2"/>
<circle cx="1006.1" cy="952.0" r="7.3" fill="#fff" stroke="#000" stroke-width="3.2"/>
<circle cx="1064.0" cy="999.3" r="7.3" fill="#fff" stroke="#000" stroke-width="3.2"/>
<circle cx="1208.4" cy="846.7" r="7.3" fill="#fff" stroke="#000" stroke-width="3.2"/>
<circle cx="1259.5" cy="809.7" r="7.3" fill="#fff" stroke="#000" stroke-width="3.2"/>
<circle cx="1337.4" cy="799.4" r="7.3" fill="#fff" stroke="#000" stroke-width="3.2"/>
<path d="M865.8,1095.7 L879.8,1095.7 L897.5,1095.7 L916.7,1095.7 L955.4,1095.7 L1006.1,1095.7 L1064.0,1095.7 L1142.1,1095.7 L1208.4,1095.7 L1259.5,1095.7 L1337.4,1095.7" fill="none" stroke="#000" stroke-width="2.8" stroke-linejoin="round"/>
<path d="M865.8,1088.1 L873.6,1103.3 L858.0,1103.3 Z" fill="#fff" stroke="#000" stroke-width="3" stroke-linejoin="round"/>
<path d="M879.8,1088.1 L887.6,1103.3 L872.0,1103.3 Z" fill="#fff" stroke="#000" stroke-width="3" stroke-linejoin="round"/>
<path d="M897.5,1088.1 L905.3,1103.3 L889.7,1103.3 Z" fill="#fff" stroke="#000" stroke-width="3" stroke-linejoin="round"/>
<path d="M916.7,1088.1 L924.5,1103.3 L908.9,1103.3 Z" fill="#fff" stroke="#000" stroke-width="3" stroke-linejoin="round"/>
<path d="M955.4,1088.1 L963.2,1103.3 L947.6,1103.3 Z" fill="#fff" stroke="#000" stroke-width="3" stroke-linejoin="round"/>
<path d="M1006.1,1088.1 L1013.9,1103.3 L998.3,1103.3 Z" fill="#fff" stroke="#000" stroke-width="3" stroke-linejoin="round"/>
<path d="M1064.0,1088.1 L1071.8,1103.3 L1056.2,1103.3 Z" fill="#fff" stroke="#000" stroke-width="3" stroke-linejoin="round"/>
<path d="M1142.1,1088.1 L1149.9,1103.3 L1134.3,1103.3 Z" fill="#fff" stroke="#000" stroke-width="3" stroke-linejoin="round"/>
<path d="M1208.4,1088.1 L1216.2,1103.3 L1200.6,1103.3 Z" fill="#fff" stroke="#000" stroke-width="3" stroke-linejoin="round"/>
<path d="M1259.5,1088.1 L1267.3,1103.3 L1251.7,1103.3 Z" fill="#fff" stroke="#000" stroke-width="3" stroke-linejoin="round"/>
<path d="M1337.4,1088.1 L1345.2,1103.3 L1329.6,1103.3 Z" fill="#fff" stroke="#000" stroke-width="3" stroke-linejoin="round"/>
<path d="M865.8,1095.7 L879.8,1095.7 L897.5,1095.7 L916.7,1095.7 L955.4,1070.2 L1006.1,945.9 L1064.0,947.8 L1142.1,865.4 L1208.4,998.3 L1259.5,918.8 L1337.4,970.7" fill="none" stroke="#000" stroke-width="5" stroke-linejoin="round"/>
<circle cx="865.8" cy="1095.7" r="8.9" fill="#000"/>
<circle cx="879.8" cy="1095.7" r="8.9" fill="#000"/>
<circle cx="897.5" cy="1095.7" r="8.9" fill="#000"/>
<circle cx="916.7" cy="1095.7" r="8.9" fill="#000"/>
<circle cx="955.4" cy="1070.2" r="8.9" fill="#000"/>
<circle cx="1006.1" cy="945.9" r="8.9" fill="#000"/>
<circle cx="1064.0" cy="947.8" r="8.9" fill="#000"/>
<circle cx="1142.1" cy="865.4" r="8.9" fill="#000"/>
<circle cx="1208.4" cy="998.3" r="8.9" fill="#000"/>
<circle cx="1259.5" cy="918.8" r="8.9" fill="#000"/>
<circle cx="1337.4" cy="970.7" r="8.9" fill="#000"/>
<path d="M865.8,1095.7 L879.8,1095.7 L897.5,1095.7 L916.7,1095.7 L955.4,1095.7 L1006.1,1095.7 L1064.0,1095.7 L1142.1,1095.7 L1208.4,1091.0 L1259.5,1095.7 L1337.4,1088.7" fill="none" stroke="#000" stroke-width="2.8" stroke-linejoin="round"/>
<path d="M865.8,1086.8 L874.9,1104.6 L856.7,1104.6 Z" fill="#000" stroke="#000" stroke-width="1" stroke-linejoin="round"/>
<path d="M879.8,1086.8 L888.9,1104.6 L870.7,1104.6 Z" fill="#000" stroke="#000" stroke-width="1" stroke-linejoin="round"/>
<path d="M897.5,1086.8 L906.5,1104.6 L888.4,1104.6 Z" fill="#000" stroke="#000" stroke-width="1" stroke-linejoin="round"/>
<path d="M916.7,1086.8 L925.8,1104.6 L907.6,1104.6 Z" fill="#000" stroke="#000" stroke-width="1" stroke-linejoin="round"/>
<path d="M955.4,1086.8 L964.5,1104.6 L946.3,1104.6 Z" fill="#000" stroke="#000" stroke-width="1" stroke-linejoin="round"/>
<path d="M1006.1,1086.8 L1015.2,1104.6 L997.0,1104.6 Z" fill="#000" stroke="#000" stroke-width="1" stroke-linejoin="round"/>
<path d="M1064.0,1086.8 L1073.1,1104.6 L1054.9,1104.6 Z" fill="#000" stroke="#000" stroke-width="1" stroke-linejoin="round"/>
<path d="M1142.1,1086.8 L1151.2,1104.6 L1133.0,1104.6 Z" fill="#000" stroke="#000" stroke-width="1" stroke-linejoin="round"/>
<path d="M1208.4,1082.1 L1217.4,1099.9 L1199.3,1099.9 Z" fill="#000" stroke="#000" stroke-width="1" stroke-linejoin="round"/>
<path d="M1259.5,1086.8 L1268.5,1104.6 L1250.4,1104.6 Z" fill="#000" stroke="#000" stroke-width="1" stroke-linejoin="round"/>
<path d="M1337.4,1079.8 L1346.4,1097.6 L1328.3,1097.6 Z" fill="#000" stroke="#000" stroke-width="1" stroke-linejoin="round"/>
<path d="M865.8,1095.7 L879.8,1095.7 L897.5,1095.7 L916.7,1095.7 L955.4,1095.7 L1006.1,1095.7 L1064.0,1095.7 L1142.1,1095.7 L1208.4,1095.7 L1259.5,1095.7 L1337.4,1095.7" fill="none" stroke="#000" stroke-width="2.8" stroke-linejoin="round"/>
<rect x="856.9" y="1086.8" width="17.8" height="17.8" rx="1.5" fill="#000"/>
<rect x="870.9" y="1086.8" width="17.8" height="17.8" rx="1.5" fill="#000"/>
<rect x="888.6" y="1086.8" width="17.8" height="17.8" rx="1.5" fill="#000"/>
<rect x="907.8" y="1086.8" width="17.8" height="17.8" rx="1.5" fill="#000"/>
<rect x="946.5" y="1086.8" width="17.8" height="17.8" rx="1.5" fill="#000"/>
<rect x="997.2" y="1086.8" width="17.8" height="17.8" rx="1.5" fill="#000"/>
<rect x="1055.1" y="1086.8" width="17.8" height="17.8" rx="1.5" fill="#000"/>
<rect x="1133.2" y="1086.8" width="17.8" height="17.8" rx="1.5" fill="#000"/>
<rect x="1199.5" y="1086.8" width="17.8" height="17.8" rx="1.5" fill="#000"/>
<rect x="1250.6" y="1086.8" width="17.8" height="17.8" rx="1.5" fill="#000"/>
<rect x="1328.5" y="1086.8" width="17.8" height="17.8" rx="1.5" fill="#000"/>
<path d="M126.2,1338.6 L140.9,1330.1 L157.5,1348.2 L177.5,1338.6 L216.6,1326.6 L266.9,1363.1 L325.7,1425.6 L403.8,1462.7 L470.5,1453.8 L521.6,1475.4 L600.0,1503.6" fill="none" stroke="#000" stroke-width="2.8" stroke-linejoin="round"/>
<circle cx="126.2" cy="1338.6" r="8.9" fill="#000"/>
<circle cx="140.9" cy="1330.1" r="8.9" fill="#000"/>
<circle cx="157.5" cy="1348.2" r="8.9" fill="#000"/>
<circle cx="177.5" cy="1338.6" r="8.9" fill="#000"/>
<circle cx="216.6" cy="1326.6" r="8.9" fill="#000"/>
<circle cx="266.9" cy="1363.1" r="8.9" fill="#000"/>
<circle cx="325.7" cy="1425.6" r="8.9" fill="#000"/>
<circle cx="403.8" cy="1462.7" r="8.9" fill="#000"/>
<circle cx="470.5" cy="1453.8" r="8.9" fill="#000"/>
<circle cx="521.6" cy="1475.4" r="8.9" fill="#000"/>
<circle cx="600.0" cy="1503.6" r="8.9" fill="#000"/>
<path d="M126.2,1353.2 L140.9,1353.2 L157.5,1351.3 L177.5,1348.2 L216.6,1371.6 L266.9,1348.5 L325.7,1366.2 L403.8,1374.5 L470.5,1387.2 L521.6,1373.2 L600.0,1419.2" fill="none" stroke="#000" stroke-width="2.8" stroke-linejoin="round"/>
<path d="M126.2,1344.3 L135.3,1362.1 L117.1,1362.1 Z" fill="#000" stroke="#000" stroke-width="1" stroke-linejoin="round"/>
<path d="M140.9,1344.3 L150.0,1362.1 L131.8,1362.1 Z" fill="#000" stroke="#000" stroke-width="1" stroke-linejoin="round"/>
<path d="M157.5,1342.4 L166.6,1360.2 L148.4,1360.2 Z" fill="#000" stroke="#000" stroke-width="1" stroke-linejoin="round"/>
<path d="M177.5,1339.3 L186.5,1357.1 L168.4,1357.1 Z" fill="#000" stroke="#000" stroke-width="1" stroke-linejoin="round"/>
<path d="M216.6,1362.7 L225.7,1380.5 L207.5,1380.5 Z" fill="#000" stroke="#000" stroke-width="1" stroke-linejoin="round"/>
<path d="M266.9,1339.6 L275.9,1357.4 L257.8,1357.4 Z" fill="#000" stroke="#000" stroke-width="1" stroke-linejoin="round"/>
<path d="M325.7,1357.3 L334.8,1375.1 L316.7,1375.1 Z" fill="#000" stroke="#000" stroke-width="1" stroke-linejoin="round"/>
<path d="M403.8,1365.6 L412.9,1383.4 L394.7,1383.4 Z" fill="#000" stroke="#000" stroke-width="1" stroke-linejoin="round"/>
<path d="M470.5,1378.3 L479.6,1396.1 L461.4,1396.1 Z" fill="#000" stroke="#000" stroke-width="1" stroke-linejoin="round"/>
<path d="M521.6,1364.3 L530.7,1382.1 L512.5,1382.1 Z" fill="#000" stroke="#000" stroke-width="1" stroke-linejoin="round"/>
<path d="M600.0,1410.3 L609.1,1428.1 L590.9,1428.1 Z" fill="#000" stroke="#000" stroke-width="1" stroke-linejoin="round"/>
<path d="M126.2,1304.7 L140.9,1341.8 L157.5,1342.4 L177.5,1316.7 L216.6,1332.3 L266.9,1345.0 L325.7,1344.0 L403.8,1362.8 L470.5,1345.6 L521.6,1339.9 L600.0,1371.0" fill="none" stroke="#000" stroke-width="2.8" stroke-linejoin="round"/>
<path d="M126.2,1297.1 L134.0,1312.3 L118.4,1312.3 Z" fill="#fff" stroke="#000" stroke-width="3" stroke-linejoin="round"/>
<path d="M140.9,1334.2 L148.7,1349.4 L133.1,1349.4 Z" fill="#fff" stroke="#000" stroke-width="3" stroke-linejoin="round"/>
<path d="M157.5,1334.8 L165.3,1350.0 L149.7,1350.0 Z" fill="#fff" stroke="#000" stroke-width="3" stroke-linejoin="round"/>
<path d="M177.5,1309.1 L185.3,1324.3 L169.7,1324.3 Z" fill="#fff" stroke="#000" stroke-width="3" stroke-linejoin="round"/>
<path d="M216.6,1324.7 L224.4,1339.9 L208.8,1339.9 Z" fill="#fff" stroke="#000" stroke-width="3" stroke-linejoin="round"/>
<path d="M266.9,1337.4 L274.7,1352.6 L259.1,1352.6 Z" fill="#fff" stroke="#000" stroke-width="3" stroke-linejoin="round"/>
<path d="M325.7,1336.4 L333.5,1351.6 L317.9,1351.6 Z" fill="#fff" stroke="#000" stroke-width="3" stroke-linejoin="round"/>
<path d="M403.8,1355.2 L411.6,1370.4 L396.0,1370.4 Z" fill="#fff" stroke="#000" stroke-width="3" stroke-linejoin="round"/>
<path d="M470.5,1338.0 L478.3,1353.2 L462.7,1353.2 Z" fill="#fff" stroke="#000" stroke-width="3" stroke-linejoin="round"/>
<path d="M521.6,1332.3 L529.4,1347.5 L513.8,1347.5 Z" fill="#fff" stroke="#000" stroke-width="3" stroke-linejoin="round"/>
<path d="M600.0,1363.4 L607.8,1378.6 L592.2,1378.6 Z" fill="#fff" stroke="#000" stroke-width="3" stroke-linejoin="round"/>
<path d="M126.2,1324.0 L140.9,1335.5 L157.5,1341.8 L177.5,1367.8 L216.6,1343.1 L266.9,1354.5 L325.7,1393.8 L403.8,1412.6 L470.5,1449.4 L521.6,1504.6 L600.0,1543.6" fill="none" stroke="#000" stroke-width="2.8" stroke-linejoin="round"/>
<circle cx="126.2" cy="1324.0" r="7.3" fill="#fff" stroke="#000" stroke-width="3.2"/>
<circle cx="140.9" cy="1335.5" r="7.3" fill="#fff" stroke="#000" stroke-width="3.2"/>
<circle cx="157.5" cy="1341.8" r="7.3" fill="#fff" stroke="#000" stroke-width="3.2"/>
<circle cx="177.5" cy="1367.8" r="7.3" fill="#fff" stroke="#000" stroke-width="3.2"/>
<circle cx="216.6" cy="1343.1" r="7.3" fill="#fff" stroke="#000" stroke-width="3.2"/>
<circle cx="266.9" cy="1354.5" r="7.3" fill="#fff" stroke="#000" stroke-width="3.2"/>
<circle cx="325.7" cy="1393.8" r="7.3" fill="#fff" stroke="#000" stroke-width="3.2"/>
<circle cx="403.8" cy="1412.6" r="7.3" fill="#fff" stroke="#000" stroke-width="3.2"/>
<circle cx="470.5" cy="1449.4" r="7.3" fill="#fff" stroke="#000" stroke-width="3.2"/>
<circle cx="521.6" cy="1504.6" r="7.3" fill="#fff" stroke="#000" stroke-width="3.2"/>
<circle cx="600.0" cy="1543.6" r="7.3" fill="#fff" stroke="#000" stroke-width="3.2"/>
<path d="M126.2,1336.4 L140.9,1341.2 L157.5,1351.0 L177.5,1333.9 L216.6,1332.3 L266.9,1332.6 L325.7,1319.6 L403.8,1331.7 L470.5,1311.7 L521.6,1323.4 L600.0,1362.4" fill="none" stroke="#000" stroke-width="2.8" stroke-linejoin="round"/>
<rect x="117.3" y="1327.5" width="17.8" height="17.8" rx="1.5" fill="#000"/>
<rect x="132.0" y="1332.3" width="17.8" height="17.8" rx="1.5" fill="#000"/>
<rect x="148.6" y="1342.1" width="17.8" height="17.8" rx="1.5" fill="#000"/>
<rect x="168.6" y="1325.0" width="17.8" height="17.8" rx="1.5" fill="#000"/>
<rect x="207.7" y="1323.4" width="17.8" height="17.8" rx="1.5" fill="#000"/>
<rect x="258.0" y="1323.7" width="17.8" height="17.8" rx="1.5" fill="#000"/>
<rect x="316.8" y="1310.7" width="17.8" height="17.8" rx="1.5" fill="#000"/>
<rect x="394.9" y="1322.8" width="17.8" height="17.8" rx="1.5" fill="#000"/>
<rect x="461.6" y="1302.8" width="17.8" height="17.8" rx="1.5" fill="#000"/>
<rect x="512.7" y="1314.5" width="17.8" height="17.8" rx="1.5" fill="#000"/>
<rect x="591.1" y="1353.5" width="17.8" height="17.8" rx="1.5" fill="#000"/>
<path d="M868.7,1538.1 L882.5,1540.5 L900.9,1538.1 L919.7,1542.9 L958.2,1531.0 L1008.5,1488.2 L1066.7,1469.3 L1144.7,1424.4 L1210.5,1391.7 L1261.6,1346.8 L1339.0,1335.0" fill="none" stroke="#000" stroke-width="2.8" stroke-linejoin="round"/>
<circle cx="868.7" cy="1538.1" r="7.3" fill="#fff" stroke="#000" stroke-width="3.2"/>
<circle cx="882.5" cy="1540.5" r="7.3" fill="#fff" stroke="#000" stroke-width="3.2"/>
<circle cx="900.9" cy="1538.1" r="7.3" fill="#fff" stroke="#000" stroke-width="3.2"/>
<circle cx="919.7" cy="1542.9" r="7.3" fill="#fff" stroke="#000" stroke-width="3.2"/>
<circle cx="958.2" cy="1531.0" r="7.3" fill="#fff" stroke="#000" stroke-width="3.2"/>
<circle cx="1008.5" cy="1488.2" r="7.3" fill="#fff" stroke="#000" stroke-width="3.2"/>
<circle cx="1066.7" cy="1469.3" r="7.3" fill="#fff" stroke="#000" stroke-width="3.2"/>
<circle cx="1144.7" cy="1424.4" r="7.3" fill="#fff" stroke="#000" stroke-width="3.2"/>
<circle cx="1210.5" cy="1391.7" r="7.3" fill="#fff" stroke="#000" stroke-width="3.2"/>
<circle cx="1261.6" cy="1346.8" r="7.3" fill="#fff" stroke="#000" stroke-width="3.2"/>
<circle cx="1339.0" cy="1335.0" r="7.3" fill="#fff" stroke="#000" stroke-width="3.2"/>
<path d="M868.7,1535.8 L882.5,1550.7 L900.9,1540.5 L919.7,1542.9 L958.2,1540.0 L1008.5,1528.7 L1066.7,1533.4 L1144.7,1533.4 L1210.5,1541.9 L1261.6,1524.7 L1339.0,1527.5" fill="none" stroke="#000" stroke-width="2.8" stroke-linejoin="round"/>
<path d="M868.7,1528.2 L876.5,1543.4 L860.9,1543.4 Z" fill="#fff" stroke="#000" stroke-width="3" stroke-linejoin="round"/>
<path d="M882.5,1543.1 L890.3,1558.3 L874.7,1558.3 Z" fill="#fff" stroke="#000" stroke-width="3" stroke-linejoin="round"/>
<path d="M900.9,1532.9 L908.7,1548.1 L893.1,1548.1 Z" fill="#fff" stroke="#000" stroke-width="3" stroke-linejoin="round"/>
<path d="M919.7,1535.3 L927.5,1550.5 L911.9,1550.5 Z" fill="#fff" stroke="#000" stroke-width="3" stroke-linejoin="round"/>
<path d="M958.2,1532.4 L966.0,1547.6 L950.4,1547.6 Z" fill="#fff" stroke="#000" stroke-width="3" stroke-linejoin="round"/>
<path d="M1008.5,1521.1 L1016.3,1536.3 L1000.7,1536.3 Z" fill="#fff" stroke="#000" stroke-width="3" stroke-linejoin="round"/>
<path d="M1066.7,1525.8 L1074.5,1541.0 L1058.9,1541.0 Z" fill="#fff" stroke="#000" stroke-width="3" stroke-linejoin="round"/>
<path d="M1144.7,1525.8 L1152.5,1541.0 L1136.9,1541.0 Z" fill="#fff" stroke="#000" stroke-width="3" stroke-linejoin="round"/>
<path d="M1210.5,1534.3 L1218.3,1549.5 L1202.7,1549.5 Z" fill="#fff" stroke="#000" stroke-width="3" stroke-linejoin="round"/>
<path d="M1261.6,1517.1 L1269.4,1532.3 L1253.8,1532.3 Z" fill="#fff" stroke="#000" stroke-width="3" stroke-linejoin="round"/>
<path d="M1339.0,1519.9 L1346.8,1535.1 L1331.2,1535.1 Z" fill="#fff" stroke="#000" stroke-width="3" stroke-linejoin="round"/>
<path d="M868.7,1538.1 L882.5,1535.8 L900.9,1540.0 L919.7,1546.4 L958.2,1533.4 L1008.5,1528.7 L1066.7,1486.6 L1144.7,1466.9 L1210.5,1460.1 L1261.6,1433.6 L1339.0,1415.2" fill="none" stroke="#000" stroke-width="2.8" stroke-linejoin="round"/>
<circle cx="868.7" cy="1538.1" r="8.9" fill="#000"/>
<circle cx="882.5" cy="1535.8" r="8.9" fill="#000"/>
<circle cx="900.9" cy="1540.0" r="8.9" fill="#000"/>
<circle cx="919.7" cy="1546.4" r="8.9" fill="#000"/>
<circle cx="958.2" cy="1533.4" r="8.9" fill="#000"/>
<circle cx="1008.5" cy="1528.7" r="8.9" fill="#000"/>
<circle cx="1066.7" cy="1486.6" r="8.9" fill="#000"/>
<circle cx="1144.7" cy="1466.9" r="8.9" fill="#000"/>
<circle cx="1210.5" cy="1460.1" r="8.9" fill="#000"/>
<circle cx="1261.6" cy="1433.6" r="8.9" fill="#000"/>
<circle cx="1339.0" cy="1415.2" r="8.9" fill="#000"/>
<path d="M868.7,1528.7 L882.5,1533.4 L900.9,1535.8 L919.7,1524.4 L958.2,1540.0 L1008.5,1528.7 L1066.7,1533.4 L1144.7,1531.5 L1210.5,1527.0 L1261.6,1515.4 L1339.0,1505.0" fill="none" stroke="#000" stroke-width="2.8" stroke-linejoin="round"/>
<path d="M868.7,1519.8 L877.8,1537.6 L859.6,1537.6 Z" fill="#000" stroke="#000" stroke-width="1" stroke-linejoin="round"/>
<path d="M882.5,1524.5 L891.6,1542.3 L873.4,1542.3 Z" fill="#000" stroke="#000" stroke-width="1" stroke-linejoin="round"/>
<path d="M900.9,1526.9 L910.0,1544.7 L891.8,1544.7 Z" fill="#000" stroke="#000" stroke-width="1" stroke-linejoin="round"/>
<path d="M919.7,1515.5 L928.8,1533.3 L910.7,1533.3 Z" fill="#000" stroke="#000" stroke-width="1" stroke-linejoin="round"/>
<path d="M958.2,1531.1 L967.3,1548.9 L949.1,1548.9 Z" fill="#000" stroke="#000" stroke-width="1" stroke-linejoin="round"/>
<path d="M1008.5,1519.8 L1017.5,1537.6 L999.4,1537.6 Z" fill="#000" stroke="#000" stroke-width="1" stroke-linejoin="round"/>
<path d="M1066.7,1524.5 L1075.8,1542.3 L1057.6,1542.3 Z" fill="#000" stroke="#000" stroke-width="1" stroke-linejoin="round"/>
<path d="M1144.7,1522.6 L1153.8,1540.4 L1135.6,1540.4 Z" fill="#000" stroke="#000" stroke-width="1" stroke-linejoin="round"/>
<path d="M1210.5,1518.1 L1219.6,1535.9 L1201.4,1535.9 Z" fill="#000" stroke="#000" stroke-width="1" stroke-linejoin="round"/>
<path d="M1261.6,1506.5 L1270.6,1524.3 L1252.5,1524.3 Z" fill="#000" stroke="#000" stroke-width="1" stroke-linejoin="round"/>
<path d="M1339.0,1496.1 L1348.1,1513.9 L1329.9,1513.9 Z" fill="#000" stroke="#000" stroke-width="1" stroke-linejoin="round"/>
<path d="M868.7,1537.4 L882.5,1530.6 L900.9,1535.8 L919.7,1531.0 L958.2,1523.5 L1008.5,1530.6 L1066.7,1534.1 L1144.7,1537.2 L1210.5,1530.3 L1261.6,1535.1 L1339.0,1533.9" fill="none" stroke="#000" stroke-width="2.8" stroke-linejoin="round"/>
<rect x="859.8" y="1528.5" width="17.8" height="17.8" rx="1.5" fill="#000"/>
<rect x="873.6" y="1521.7" width="17.8" height="17.8" rx="1.5" fill="#000"/>
<rect x="892.0" y="1526.9" width="17.8" height="17.8" rx="1.5" fill="#000"/>
<rect x="910.8" y="1522.1" width="17.8" height="17.8" rx="1.5" fill="#000"/>
<rect x="949.3" y="1514.6" width="17.8" height="17.8" rx="1.5" fill="#000"/>
<rect x="999.6" y="1521.7" width="17.8" height="17.8" rx="1.5" fill="#000"/>
<rect x="1057.8" y="1525.2" width="17.8" height="17.8" rx="1.5" fill="#000"/>
<rect x="1135.8" y="1528.3" width="17.8" height="17.8" rx="1.5" fill="#000"/>
<rect x="1201.6" y="1521.4" width="17.8" height="17.8" rx="1.5" fill="#000"/>
<rect x="1252.7" y="1526.2" width="17.8" height="17.8" rx="1.5" fill="#000"/>
<rect x="1330.1" y="1525.0" width="17.8" height="17.8" rx="1.5" fill="#000"/>
<line x1="154.5" y1="67.8" x2="190" y2="67.8" stroke="#000" stroke-width="3.4" stroke-linecap="round"/>
<circle cx="171.8" cy="67.8" r="6.4" fill="#fff" stroke="#000" stroke-width="3.2"/>
<text x="193.4" y="76.3" class="lg" xml:space="preserve">Rhizomes</text>
<line x1="154.5" y1="112.6" x2="190" y2="112.6" stroke="#000" stroke-width="3.4" stroke-linecap="round"/>
<circle cx="171.8" cy="112.6" r="8.0" fill="#000"/>
<text x="193.4" y="121.1" class="lg" xml:space="preserve">Young  leaves</text>
<line x1="154.5" y1="158.1" x2="190" y2="158.1" stroke="#000" stroke-width="3.4" stroke-linecap="round"/>
<path d="M171.8,150.1 L180.0,166.1 L163.6,166.1 Z" fill="#000" stroke="#000" stroke-width="1" stroke-linejoin="round"/>
<text x="193.4" y="166.6" class="lg" xml:space="preserve">Old leaves</text>
<line x1="154.5" y1="202.5" x2="190" y2="202.5" stroke="#000" stroke-width="3.4" stroke-linecap="round"/>
<path d="M171.8,195.8 L178.7,209.2 L164.9,209.2 Z" fill="#fff" stroke="#000" stroke-width="3" stroke-linejoin="round"/>
<text x="193.4" y="211.0" class="lg" xml:space="preserve">Roots</text>
<line x1="154.5" y1="246.7" x2="190" y2="246.7" stroke="#000" stroke-width="3.4" stroke-linecap="round"/>
<rect x="163.8" y="238.7" width="16.0" height="16.0" rx="1.5" fill="#000"/>
<text x="193.4" y="255.2" class="lg" xml:space="preserve">Control</text>
</svg></body></html>
